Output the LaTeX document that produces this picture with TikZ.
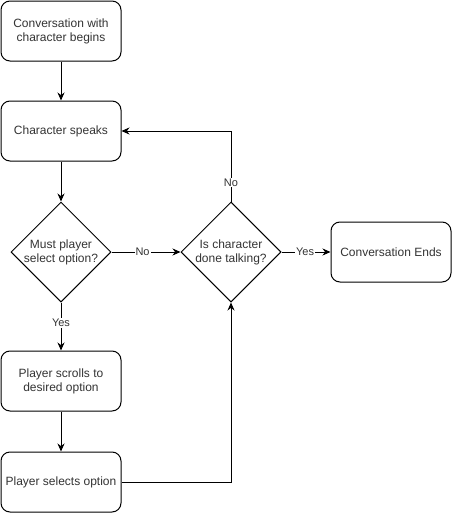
\documentclass[tikz,border=0pt]{standalone}
\usepackage{fontspec}
\setmainfont{Liberation Sans}
\usetikzlibrary{shapes.geometric,arrows.meta}
\definecolor{txt}{HTML}{333333}
\begin{document}
\begin{tikzpicture}[x=1pt,y=-1pt,
  box/.style={draw,line width=1pt,rounded corners=9pt,minimum width=120pt,minimum height=60pt,inner sep=2pt,align=center,font=\fontsize{12pt}{14pt}\selectfont,text=txt},
  dia/.style={draw,line width=1pt,diamond,minimum width=100pt,minimum height=100pt,inner sep=0pt,align=center,font=\fontsize{12pt}{14pt}\selectfont,text=txt},
  conn/.style={line width=1pt,-{Stealth[length=8pt,width=7pt]}},
  lbl/.style={fill=white,inner sep=1pt,font=\fontsize{11pt}{13pt}\selectfont,text=txt}]
\useasboundingbox (0,0) rectangle (454,514);
\node[box] (start) at (61,31) {Conversation with\\character begins};
\node[box] (speak) at (61,131) {Character speaks};
\node[dia] (must) at (61,252) {Must player\\select option?};
\node[dia] (done) at (231,252) {Is character\\done talking?};
\node[box] (ends) at (391,252) {Conversation Ends};
\node[box] (scroll) at (61,381) {Player scrolls to\\desired option};
\node[box] (select) at (61,482) {Player selects option};
\coordinate (c1) at (231,131);
\coordinate (c2) at (231,482);
\draw[conn] (start) -- (speak);
\draw[conn] (speak) -- (must);
\draw[conn] (must) -- node[lbl,pos=0.45]{No} (done);
\draw[conn] (done.north) -- node[lbl,pos=0.27]{No} (c1) -- (speak.east);
\draw[conn] (done) -- node[lbl,pos=0.48]{Yes} (ends);
\draw[conn] (must) -- node[lbl,pos=0.43]{Yes} (scroll);
\draw[conn] (scroll) -- (select);
\draw[conn] (select.east) -- (c2) -- (done.south);
\end{tikzpicture}
\end{document}
